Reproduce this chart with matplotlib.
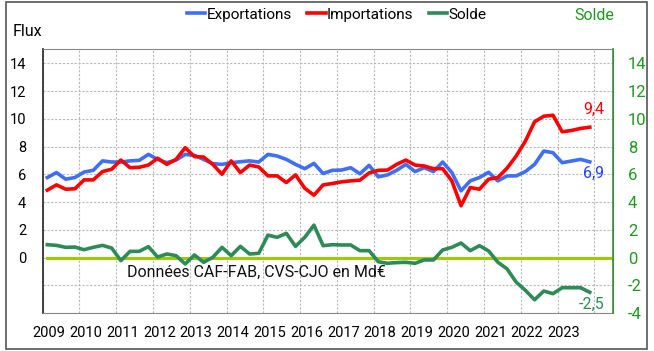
import matplotlib.pyplot as plt
import matplotlib.transforms as mtransforms
import numpy as np
from matplotlib.patches import Rectangle

plt.rcParams['font.family'] = ['Roboto', 'DejaVu Sans']

# quarterly series, 2009 T1 -> 2023 T4, Md€
exportations = [5.77, 6.13, 5.65, 5.77, 6.17, 6.29, 6.97, 6.89, 6.89, 6.97,
                7.01, 7.44, 7.08, 6.84, 7.03, 7.44, 7.37, 7.08, 6.77, 6.72,
                6.84, 6.91, 6.97, 6.89, 7.44, 7.32, 7.08, 6.72, 6.41, 6.79,
                6.06, 6.29, 6.31, 6.48, 6.04, 6.65, 5.82, 5.96, 6.29, 6.72,
                6.20, 6.48, 6.20, 6.89, 6.13, 4.81, 5.53, 5.77, 6.15, 5.53,
                5.89, 5.89, 6.20, 6.72, 7.68, 7.56, 6.84, 6.96, 7.08, 6.9]
importations = [4.86, 5.24, 4.93, 4.96, 5.60, 5.60, 6.20, 6.37, 7.03, 6.48,
                6.51, 6.67, 7.16, 6.72, 7.08, 7.92, 7.28, 7.25, 6.72, 6.01,
                6.97, 6.13, 6.67, 6.53, 5.89, 5.89, 5.41, 5.96, 5.00, 4.50,
                5.24, 5.34, 5.46, 5.53, 5.58, 6.10, 6.29, 6.31, 6.72, 7.03,
                6.67, 6.60, 6.41, 6.41, 5.53, 3.74, 5.05, 4.93, 5.65, 5.77,
                6.44, 7.32, 8.40, 9.79, 10.19, 10.26, 9.07, 9.16, 9.31, 9.4]
solde = [0.93, 0.88, 0.74, 0.76, 0.57, 0.74, 0.88, 0.69, -0.22, 0.45,
         0.45, 0.79, 0.04, 0.26, 0.14, -0.46, 0.19, -0.34, 0.02, 0.74,
         0.14, 0.81, 0.26, 0.31, 1.62, 1.46, 1.75, 0.81, 1.46, 2.34,
         0.86, 0.93, 0.91, 0.91, 0.50, 0.50, -0.30, -0.41, -0.36, -0.34,
         -0.41, -0.17, -0.17, 0.55, 0.74, 1.05, 0.50, 0.86, 0.48, -0.33,
         -0.81, -1.77, -2.36, -3.04, -2.41, -2.60, -2.17, -2.17, -2.17, -2.5]
annees = list(range(2009, 2024))

x = 2009 + (np.arange(len(exportations)) + 0.5) / 4

c_exp = '#3f6ff5'
c_imp = '#ff0000'
c_sol = '#2e8b57'
c_axe = '#1e9a1e'
fs = 11.5

fig = plt.figure(figsize=(6.54, 3.51), dpi=100)
ax = fig.add_axes([0.0653, 0.108, 0.8716, 0.751])
ax2 = ax.twinx()

l1, = ax.plot(x, exportations, color=c_exp, lw=2.6, label='Exportations', zorder=4)
l2, = ax.plot(x, importations, color=c_imp, lw=2.6, label='Importations', zorder=4)
ax.plot([x[0], 2024.5], [0, 0], color='#9acd00', lw=2.2, zorder=3)
l3, = ax.plot(x, solde, color=c_sol, lw=2.6, label='Solde', zorder=4)

ax.set_xlim(2009, 2024.5)
ax.set_ylim(-4, 15)
ax2.set_ylim(-4, 15)

# year labels sit just right of each gridline
ax.set_xticks(range(2009, 2025))
ax.set_xticklabels([str(a) for a in annees] + [''])
ax.tick_params(axis='x', length=0, pad=9, labelsize=10.5)
off = mtransforms.ScaledTranslation(-10 / 100, 0, fig.dpi_scale_trans)
for lab in ax.get_xticklabels():
    lab.set_horizontalalignment('left')
    lab.set_transform(lab.get_transform() + off)

ax.set_yticks(range(-4, 15, 2))
ax.set_yticklabels(['', ''] + [str(v) for v in range(0, 15, 2)])
ax.tick_params(axis='y', length=0, pad=12, labelsize=10.5)
ax2.set_yticks(range(-4, 15, 2))
ax2.set_yticklabels([str(v) for v in range(-4, 15, 2)])
ax2.tick_params(axis='y', length=0, pad=11, labelsize=12, colors=c_axe)

ax.grid(True, color='#b8b8b8', ls=(0, (2, 1.5)), lw=0.8)
ax.set_axisbelow(True)
for s in ['top', 'bottom']:
    ax.spines[s].set_color('#888888')
ax.spines['left'].set_color('#333333')
ax.spines['left'].set_linewidth(1.3)
ax2.spines['right'].set_color('#4a9a4a')
ax2.spines['right'].set_linewidth(1.3)
for s in ['top', 'bottom', 'left']:
    ax2.spines[s].set_visible(False)

# last values
ax.text(x[-1] + 0.1, importations[-1] + 0.75, '9,4', color=c_imp, fontsize=fs,
        ha='center', va='bottom')
ax.text(x[-1] + 0.1, exportations[-1] - 0.25, '6,9', color='#2040ff', fontsize=fs,
        ha='center', va='top')
ax.text(x[-1] + 0.05, solde[-1] - 0.3, '-2,5', color=c_sol, fontsize=fs,
        ha='center', va='top')

ax.text(2011.3, -1.05, 'Données CAF-FAB, CVS-CJO en Md€', fontsize=fs,
        color='#111111', va='center')

fig.text(0.020, 0.91, 'Flux', fontsize=fs, va='center')
fig.text(0.878, 0.955, 'Solde', fontsize=fs, va='center', color=c_axe)
fig.legend(handles=[l1, l2, l3], loc='center', bbox_to_anchor=(0.515, 0.958),
           ncol=3, frameon=False, fontsize=11, handlelength=1.2,
           handletextpad=0.1, columnspacing=1.0)

fig.patches.append(Rectangle((0.009, 0.006), 0.980, 0.988, transform=fig.transFigure,
                             fill=False, edgecolor='#555555', lw=1.2))

fig.savefig('out.png', dpi=100)
